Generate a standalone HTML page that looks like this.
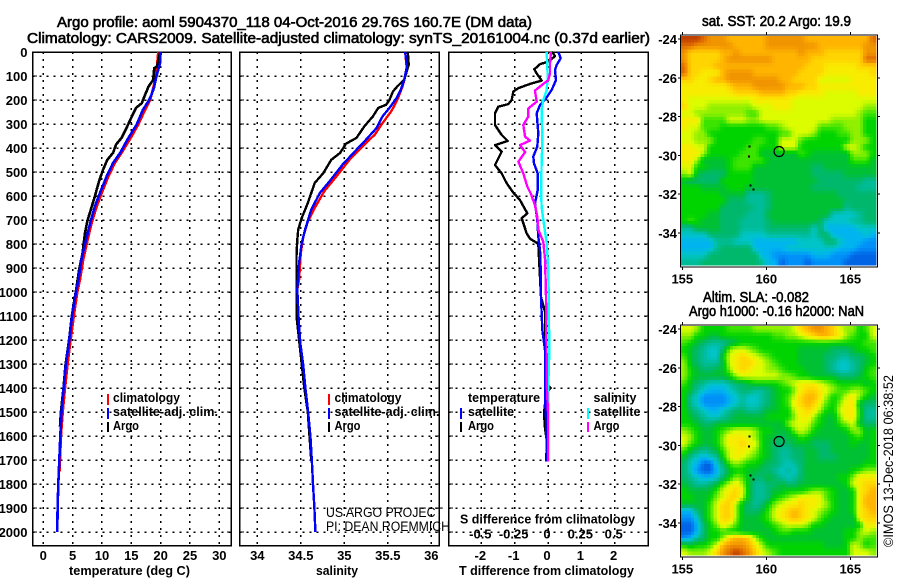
<!DOCTYPE html>
<html>
<head>
<meta charset="utf-8">
<title>Argo profile</title>
<style>
html,body{margin:0;padding:0;background:#fff;}
svg{display:block;font-family:"Liberation Sans",sans-serif;fill:#000;}
text{font-family:"Liberation Sans",sans-serif;}
.b{font-weight:bold;font-size:13px;}
.t{font-size:14.5px;font-weight:normal;stroke:#000;stroke-width:0.6px;}
.r{font-size:13.5px;}
</style>
</head>
<body>
<svg id="chart" width="900" height="580" viewBox="0 0 900 580" xmlns="http://www.w3.org/2000/svg">
<rect x="0" y="0" width="900" height="580" fill="#fff"/>
<g id="marks"></g>
<text class="t" x="57" y="27" textLength="475" lengthAdjust="spacingAndGlyphs">Argo profile: aoml 5904370_118 04-Oct-2016 29.76S 160.7E (DM data)</text>
<text class="t" x="27" y="43" textLength="623" lengthAdjust="spacingAndGlyphs">Climatology: CARS2009. Satellite-adjusted climatology: synTS_20161004.nc (0.37d earlier)</text>
<text class="b" x="69" y="575" textLength="121" lengthAdjust="spacingAndGlyphs">temperature (deg C)</text>
<text class="b" x="316" y="575" textLength="42" lengthAdjust="spacingAndGlyphs">salinity</text>
<text class="b" x="459" y="575" textLength="175" lengthAdjust="spacingAndGlyphs">T difference from climatology</text>
<text class="b" x="460" y="523.500" textLength="175" lengthAdjust="spacingAndGlyphs">S difference from climatology</text>

<g>
<rect x="107" y="394" width="2" height="11" fill="#f00"/>
<text class="b" x="113" y="402" textLength="67" lengthAdjust="spacingAndGlyphs">climatology</text>
<rect x="107" y="408" width="2" height="11" fill="#00f"/>
<text class="b" x="113" y="416" textLength="105" lengthAdjust="spacingAndGlyphs">satellite-adj. clim.</text>
<rect x="107" y="422" width="2" height="10" fill="#000"/>
<text class="b" x="113" y="430" textLength="26" lengthAdjust="spacingAndGlyphs">Argo</text>
</g>
<g>
<rect x="328" y="394" width="2" height="11" fill="#f00"/>
<text class="b" x="334.500" y="402" textLength="67" lengthAdjust="spacingAndGlyphs">climatology</text>
<rect x="328" y="408" width="2" height="11" fill="#00f"/>
<text class="b" x="334.500" y="416" textLength="105" lengthAdjust="spacingAndGlyphs">satellite-adj. clim.</text>
<rect x="328" y="422" width="2" height="10" fill="#000"/>
<text class="b" x="334.500" y="430" textLength="26" lengthAdjust="spacingAndGlyphs">Argo</text>
</g>
<g>
<text class="b" x="468" y="402" textLength="72" lengthAdjust="spacingAndGlyphs">temperature</text>
<rect x="460" y="408" width="2" height="11" fill="#00f"/>
<text class="b" x="468" y="416" textLength="46" lengthAdjust="spacingAndGlyphs">satellite</text>
<rect x="460" y="422" width="2" height="10" fill="#000"/>
<text class="b" x="468" y="430" textLength="26" lengthAdjust="spacingAndGlyphs">Argo</text>
<text class="b" x="593.500" y="402" textLength="43" lengthAdjust="spacingAndGlyphs">salinity</text>
<rect x="587" y="408" width="2" height="11" fill="#0ff"/>
<text class="b" x="593.500" y="416" textLength="47" lengthAdjust="spacingAndGlyphs">satellite</text>
<rect x="587" y="422" width="2" height="10" fill="#f0f"/>
<text class="b" x="593.500" y="430" textLength="26" lengthAdjust="spacingAndGlyphs">Argo</text>
</g>
<text class="r" x="326" y="517" textLength="117" lengthAdjust="spacingAndGlyphs">US ARGO PROJECT</text>
<text class="r" x="326" y="531" textLength="124" lengthAdjust="spacingAndGlyphs">PI: DEAN ROEMMICH</text>
<text class="t" x="702" y="26" textLength="149" lengthAdjust="spacingAndGlyphs">sat. SST: 20.2 Argo: 19.9</text>
<text class="t" x="703" y="302" textLength="106" lengthAdjust="spacingAndGlyphs">Altim. SLA: -0.082</text>
<text class="t" x="689" y="316" textLength="175" lengthAdjust="spacingAndGlyphs">Argo h1000: -0.16 h2000: NaN</text>
<text class="r" transform="translate(893,547) rotate(-90)" textLength="172" lengthAdjust="spacingAndGlyphs">©IMOS 13-Dec-2018 06:38:52</text>
</svg>
<script>
// ---- chart data ----
const depthTicks = [0,100,200,300,400,500,600,700,800,900,1000,1100,1200,1300,1400,1500,1600,1700,1800,1900,2000];
const tempTicks = [0,5,10,15,20,25,30];
const salTicks = [34,34.5,35,35.5,36];
const salTickLabels = ['34','34.5','35','35.5','36'];
const tDiffTicks = [-2,-1,0,1,2];
const sDiffTicks = [-0.5,-0.25,0,0.25,0.5];
const sDiffTickLabels = ['-0.5','-0.25','0','0.25','0.5'];
const lonTicks = [155,160,165];
const latTicks = [-24,-26,-28,-30,-32,-34];

const climTDepth = [0,25,60,100,140,200,243,302,358,420,462,518,588,643,712,782,865,948,1000,1100,1200,1300,1400,1500,1600,1700,1750];
const climT = [19.6,19.5,19.4,19.1,18.85,18.2,17.3,16.2,14.9,13.35,12.2,11.1,9.95,9.1,8.25,7.55,6.8,6.25,5.8,5.2,4.66,4.15,3.7,3.3,3,2.84,2.75];
const satTDepth = [0,46,100,150,178,206,240,303,358,420,462,518,588,643,712,782,865,948,1000,1100,1200,1300,1400,1500,1600,1700,1800,1900,2000];
const satT = [20,19.9,19.3,18.85,18.45,17.9,17,15.9,14.5,13.1,11.9,10.8,9.65,8.8,8,7.3,6.5,6,5.57,4.9,4.43,3.86,3.47,3.1,2.9,2.73,2.56,2.44,2.39];
const argoTDepth = [0,25,60,67,115,146,200,213,233,268,316,358,385,420,449,490,539,601,657,705,754,837,907,976,1100,1200,1300,1400,1500,1560];
const argoT = [19.9,19.7,19.4,18.9,18.75,17.9,17,16.8,15.8,15.1,14.2,13.35,12.4,11.9,10.9,10.2,9.5,8.8,8.1,7.5,7.1,6.7,6.1,5.7,4.85,4.4,3.8,3.45,3.0,2.85];

const climSDepth = [0,74,143,199,247,296,344,393,449,518,580,650,706,768,837,948,990];
const climS = [35.7,35.72,35.67,35.61,35.54,35.44,35.35,35.21,35.06,34.91,34.77,34.66,34.58,34.53,34.5,34.48,34.46];
const argoSDepth = [0,53,115,143,164,199,220,233,268,310,358,382,421,449,504,546,629,692,740,782,851,990,1100,1200,1300,1400,1500,1700];
const argoS = [35.73,35.74,35.69,35.61,35.56,35.52,35.48,35.39,35.33,35.23,35.14,35.02,34.95,34.85,34.76,34.66,34.58,34.51,34.47,34.46,34.45,34.45,34.45,34.48,34.51,34.54,34.58,34.62];
const satSDepth = [0,60,115,157,192,233,268,317,365,407,469,539,587,657,740,796,879,990,1100,1200,1300,1400,1500,1600,1700,1800,1900,2000];
const satS = [35.7,35.72,35.69,35.65,35.6,35.52,35.44,35.37,35.25,35.14,34.98,34.83,34.72,34.62,34.55,34.51,34.48,34.46,34.473,34.49,34.527,34.553,34.584,34.61,34.626,34.64,34.656,34.668];

const argoTDiffDepth = [0,6,17,40,51,72,89,119,133,151,165,200,217,228,256,304,346,371,388,415,471,506,547,586,617,672,693,756,778,799,882,1021,1082,1242,1380,1400,1420,1505,1568,1617,1706];
const argoTDiff = [0.1,0.16,0.21,0.01,-0.24,-0.41,-0.34,-0.19,-0.54,-0.89,-1.04,-1.09,-1.19,-1.49,-1.59,-1.59,-1.39,-1.21,-1.59,-1.39,-1.59,-1.39,-1.24,-1.04,-0.84,-0.62,-0.79,-0.64,-0.54,-0.29,-0.26,-0.21,-0.09,-0.08,-0.07,0.08,-0.05,-0.12,-0.09,-0.04,-0.05];
const satTDiffDepth = [0,26,54,75,117,158,193,221,256,339,394,436,464,506,575,631,700,769,825,908,1019,1158,1242,1470,1550,1706];
const satTDiff = [0.31,0.38,0.26,0.21,0.24,0.11,-0.06,-0.24,-0.34,-0.29,-0.32,-0.44,-0.42,-0.31,-0.31,-0.39,-0.32,-0.29,-0.24,-0.22,-0.21,-0.17,-0.09,-0.08,-0.05,-0.04];
const satSDiffDepth = [0,103,158,200,242,367,464,575,644,700,797,908,1019,1250,1370,1706];
const satSDiff = [-0.01,-0.0025,-0.01,-0.035,-0.048,-0.042,-0.048,-0.052,-0.048,-0.035,-0.01,0.0025,0.005,0.01,0.003,0.002];
const argoSDiffDepth = [0,47,89,117,133,161,207,235,269,304,353,369,388,417,457,506,561,589,637,686,742,790,867,1019,1400,1500,1706];
const argoSDiff = [0.022,0.015,0.015,0.002,-0.035,-0.098,-0.085,-0.148,-0.148,-0.185,-0.172,-0.135,-0.21,-0.172,-0.222,-0.185,-0.155,-0.13,-0.098,-0.08,-0.072,-0.035,-0.022,-0.015,-0.008,0,0];

const sstRows = [
"qqqpooonnnnnnoooooonnnnnnnnnnp",
"ppoooooonnnnnoooooooonnnnnnnoo",
"ommmmmnnonnnnnnnnnonnnmmmmmmoo",
"ommmmmnooooooonnnnnnmmmmmmmmpp",
"pmmmmnnnnnnnnnnnnnnmmmlllllmmm",
"pmmlllnoooonnnnnnnmmmmlllllllm",
"mmllmnnoooooooonnmmmmkkkkkllll",
"lllllllmnnnooooonnnmmlllllllll",
"llllllllmmmmnnnnmmllllkkkkklll",
"lkkkkkkkkkkllllllkkkkkkkkkkkkk",
"mkkkjjjjjjjkkklllkkkkkkkkkkkjj",
"kkjjjjjjjjiikkkkkkkkkkkkkkkjii",
"llliiiikkkjjkkkkkkkkkkkjjjjjhh",
"lkkiiihhhhhhhiijkkkkkiiiijjjhh",
"kkjjhhhhhhhhhhhiikkkjhhhiijjhh",
"kkjjjhhhhhhiihhkkkihhhhhhhjjjh",
"llkkhhhhhhiihhhkkkhhhhhhhkkjhh",
"llljhhhhhiiiggggggihggggggjjjh",
"lljgggghiiiiigggggggggggggiiig",
"kkhhggghiiigggggggggffgggggggg",
"jkgffffhhhhgggggggggfffffggggg",
"gfffffhhhhhggggggggggfffffffee",
"hhhgggghhhggggggggggfffffffeee",
"hhhhhhggggeeefggggggggggffffff",
"hhhhhhhfffeeefgggggggggggfffff",
"hhhhhhfffffeefgggggggggggeffff",
"hhhhggffffeeeggggggggggddddeff",
"hihgggfffeeeefgggggggfddddeeff",
"eeggggfffeeeefffffffdfcccccddd",
"ddddfffffddddeeeeeeedffcccccdc",
"ccccceeedddcccccccddddffdcccbb",
"cccccefffffcccccddddddddcccbbb",
"ddddffffffffccbbbbbbcccbbbaaaa",
"eeefffffffffeccabbbabbbbbaaaaa"
];
const slaRows = [
"kkjhhhhiiiijjjjjjkmnoonmkjjhik",
"jjhhgghhhhhhhhiijjklmnnmljihhk",
"ihgfeeefghhhhhhhhhhhhhhhhhhhii",
"hgfeddfjkkjihhhhhhgggggfffghhi",
"igfeddhklmlkjihhhhggggffeeffgh",
"jgfeeegklmmlkjihhhggggfeddefgh",
"jhgffggjlmlkkjjihhhgggfeddefhi",
"jhggggghjkkkkkkjjihhggggfffghi",
"igfedddeffghhhhijklllkjihhhhgh",
"hgedcccdeffeefghhjlmmlkjiijjih",
"hedbbbbcdeddefghikmnnljhikljhg",
"hedbbbbcdeddefghilmnmkihjllgff",
"hfedccdeffeefgghhklmljhhkllhee",
"hgfeddefggggghhhhjlljhggjllhee",
"hhgffgggggggggggjkkkihggijkgff",
"jihgghijkkkjhhgggjkjhgggghjjgh",
"kjhgghjlllkjhggfggihgggggghigh",
"kihgghjllmlkhgfffgggfffggghggh",
"igfefgikllkjhgfeeffggffggggggh",
"gedcdehklkjihgfeeffggfffgggggh",
"fdcaadfijihhgffedefggggggggghh",
"fdbaaceghhggffededfggggggghijj",
"fedccdfhjigffgfedefggggghhjlll",
"gfeefgikljgeeffgffggggggghklmm",
"hggggiklmkgeefgghhhijjihgghlmn",
"hhgghjkmmjgeefhijklllkihgghlnn",
"ggggikmmjgfefhjkllmllkjhgghlnn",
"ccfgikmmjgffgiklmnmlkjihgghlmn",
"bbdgikmmjggghiklmnmlkihgggglmm",
"aacfhjlkigggghijkkkjhhggggghll",
"aacfhhihhggggghiihhhggggghhjkj",
"bcefhhjmnnmjhgggggggggggghhjii",
"hghhiknooonljhhhhhhhhhggghkjhi",
"kjjjkmopqpomkjihhhhhhhhhhhkkkj"
];
const mapLevels = 'abcdefghijklmnopq';
const mapPalette = [[0,100,228],[0,144,248],[0,180,240],[0,196,200],[0,188,152],[0,184,108],[0,192,52],[0,212,0],[60,228,0],[144,240,0],[220,252,0],[248,236,0],[255,212,0],[255,180,0],[240,148,0],[224,108,0],[192,64,0]];
const coastPoints = [[159.0,-29.55],[158.97,-30.05],[159.05,-31.55],[159.25,-31.75]];
const floatLon = 160.76;
const floatLat = -29.8;

// ---- axis functions ----
const NS = 'http://www.w3.org/2000/svg';
const marks = document.getElementById('marks');
function mk(tag, attrs, parent){
  const el = document.createElementNS(NS, tag);
  for (const k in attrs) el.setAttribute(k, attrs[k]);
  (parent || marks).appendChild(el);
  return el;
}
const depthY = d => 52 + d * 0.24;
const tempX = t => 43.3 + t * 5.867;
const salX = s => 257.3 + (s - 34) * 87;
const tDiffX = t => 548 + t * 33.33;
const sDiffX = s => 548 + s * 133.3;
const lonX = lon => 682.3 + (lon - 155) * 16.8;
const sstLatY = lat => 39 + (-24 - lat) * 19.4;
const slaLatY = lat => 329 + (-24 - lat) * 19.4;

function panelFrame(x0, x1, xVals, xFn, name){
  const g = mk('g', {});
  
  
  xVals.forEach(v => {
    const l = mk('line', {x1:xFn(v), x2:xFn(v), y1:52, y2:545.5, stroke:'#000', 'stroke-width':1.5, 'stroke-dasharray':'2 5', 'shape-rendering':'crispEdges'}, g);
    
    
  });
  depthTicks.forEach(d => {
    const l = mk('line', {x1:x0, x2:x1, y1:depthY(d), y2:depthY(d), stroke:'#000', 'stroke-width':1.5, 'stroke-dasharray':'2 5', 'shape-rendering':'crispEdges'}, g);
    
    
    const a = mk('line', {x1:x0, x2:x0 + 4.500, y1:depthY(d), y2:depthY(d), stroke:'#000', 'stroke-width':1, 'shape-rendering':'crispEdges'}, g);
    
    
    const b = mk('line', {x1:x1 - 4.500, x2:x1, y1:depthY(d), y2:depthY(d), stroke:'#000', 'stroke-width':1, 'shape-rendering':'crispEdges'}, g);
    
    
  });
  const f = mk('rect', {x:x0, y:52, width:x1 - x0, height:493.5, fill:'none', stroke:'#000', 'stroke-width':1.5, 'shape-rendering':'crispEdges'}, g);
  
  
}
function series(depths, vals, xFn, color, width, name){
  const pts = depths.map((d, i) => xFn(vals[i]).toFixed(1) + ',' + depthY(d).toFixed(1)).join(' ');
  const p = mk('polyline', {points:pts, fill:'none', stroke:color, 'stroke-width':width, 'stroke-linejoin':'round', 'shape-rendering':'crispEdges'});
  
  
}
function label(x, y, str, anchor, name){
  const t = mk('text', {x:x, y:y, 'text-anchor':anchor, class:'b'});
  t.textContent = str;
  
  
}

// panels
panelFrame(32.5, 231.3, tempTicks, tempX, 'temperature-panel');
panelFrame(239.5, 439.3, salTicks, salX, 'salinity-panel');
panelFrame(448.5, 648.3, tDiffTicks, tDiffX, 'difference-panel');

depthTicks.forEach(d => {
  label(27.5, depthY(d) + 5, String(d), 'end', 'depth-tick-label');
});
tempTicks.forEach(v => {
  label(tempX(v), 560, String(v), 'middle', 'temperature-tick-label');
});
salTicks.forEach((v, i) => {
  label(salX(v), 560, salTickLabels[i], 'middle', 'salinity-tick-label');
});
tDiffTicks.forEach(v => {
  label(tDiffX(v) - 1, 560, String(v), 'middle', 't-difference-tick-label');
});
sDiffTicks.forEach((v, i) => {
  label(sDiffX(v) - 1, 538.5, sDiffTickLabels[i], 'middle', 's-difference-tick-label');
});

// series
series(climTDepth, climT, tempX, '#f00', 2.6, 'temperature-climatology-line');
series(argoTDepth, argoT, tempX, '#000', 2.6, 'temperature-argo-line');
series(satTDepth, satT, tempX, '#00f', 2.6, 'temperature-satellite-line');
series(climSDepth, climS, salX, '#f00', 2.4, 'salinity-climatology-line');
series(argoSDepth, argoS, salX, '#000', 2.4, 'salinity-argo-line');
series(satSDepth, satS, salX, '#00f', 2.4, 'salinity-satellite-line');
series(argoTDiffDepth, argoTDiff, tDiffX, '#000', 2.4, 'argo-temperature-difference-line');
series(satTDiffDepth, satTDiff, tDiffX, '#00f', 2.4, 'satellite-temperature-difference-line');
series(satSDiffDepth, satSDiff, sDiffX, '#0ff', 2.4, 'satellite-salinity-difference-line');
series(argoSDiffDepth, argoSDiff, sDiffX, '#f0f', 2.4, 'argo-salinity-difference-line');

// maps: each letter is a level in the colour ramp; cells are drawn at twice the grid density
function levelAt(rows, r, c){
  const rr = Math.max(0, Math.min(rows.length - 1, r));
  const row = rows[rr];
  const cc = Math.max(0, Math.min(row.length - 1, c));
  return mapLevels.indexOf(row[cc]);
}
function sampleLevel(rows, v, u){
  const r0 = Math.floor(v), c0 = Math.floor(u);
  const fr = v - r0, fc = u - c0;
  return (levelAt(rows, r0, c0) * (1 - fc) + levelAt(rows, r0, c0 + 1) * fc) * (1 - fr) +
         (levelAt(rows, r0 + 1, c0) * (1 - fc) + levelAt(rows, r0 + 1, c0 + 1) * fc) * fr;
}
function rampColor(level){
  const i = Math.min(mapPalette.length - 2, Math.floor(level));
  const f = level - i;
  const a = mapPalette[i], b = mapPalette[i + 1];
  return 'rgb(' + Math.round(a[0] + (b[0] - a[0]) * f) + ',' + Math.round(a[1] + (b[1] - a[1]) * f) + ',' + Math.round(a[2] + (b[2] - a[2]) * f) + ')';
}
function drawMap(rows, latY, top, bottom, name){
  const g = mk('g', {});
  
  
  const left = 681, right = 876, density = 2;
  const nr = rows.length * density, nc = rows[0].length * density;
  const w = (right - left) / nc, h = (bottom - top) / nr;
  for (let r = 0; r < nr; r++) {
    for (let c = 0; c < nc; c++) {
      const lev = sampleLevel(rows, (r + 0.5) / density - 0.5, (c + 0.5) / density - 0.5);
      const cell = mk('rect', {x:(left + c * w).toFixed(2), y:(top + r * h).toFixed(2), width:(w + 0.4).toFixed(2), height:(h + 0.4).toFixed(2), fill:rampColor(lev), 'shape-rendering':'crispEdges'}, g);
      
      
    }
  }
  const frameTop = top - 1, frameBottom = bottom + 2;
  const frame = mk('rect', {x:680.5, y:frameTop, width:197, height:frameBottom - frameTop, fill:'none', stroke:'#000', 'stroke-width':1, 'shape-rendering':'crispEdges'}, g);
  
  
  lonTicks.forEach(v => {
    const a = mk('line', {x1:lonX(v), x2:lonX(v), y1:frameTop - 3, y2:frameTop, stroke:'#000', 'stroke-width':1, 'shape-rendering':'crispEdges'}, g);
    
    
    const b = mk('line', {x1:lonX(v), x2:lonX(v), y1:frameBottom, y2:frameBottom + 3, stroke:'#000', 'stroke-width':1, 'shape-rendering':'crispEdges'}, g);
    
    
    const t = mk('text', {x:lonX(v), y:frameBottom + 16.500, 'text-anchor':'middle', class:'b'}, g);
    t.textContent = String(v);
    
    
  });
  latTicks.forEach(v => {
    const a = mk('line', {x1:678, x2:680.5, y1:latY(v), y2:latY(v), stroke:'#000', 'stroke-width':1, 'shape-rendering':'crispEdges'}, g);
    
    
    const b = mk('line', {x1:877.5, x2:880, y1:latY(v), y2:latY(v), stroke:'#000', 'stroke-width':1, 'shape-rendering':'crispEdges'}, g);
    
    
    const t = mk('text', {x:677, y:latY(v) + 5, 'text-anchor':'end', class:'b'}, g);
    t.textContent = String(v);
    
    
  });
  coastPoints.forEach(p => {
    const d = mk('rect', {x:lonX(p[0]) - 1, y:latY(p[1]) - 1, width:2, height:2, fill:'#000', 'shape-rendering':'crispEdges'}, g);
    
    
  });
  const c = mk('circle', {cx:lonX(floatLon), cy:latY(floatLat), r:5, fill:'none', stroke:'#000', 'stroke-width':1.2}, g);
  
  
}
drawMap(sstRows, sstLatY, 36, 265, 'sst-map');
drawMap(slaRows, slaLatY, 326, 555, 'sla-map');
</script>
</body>
</html>
